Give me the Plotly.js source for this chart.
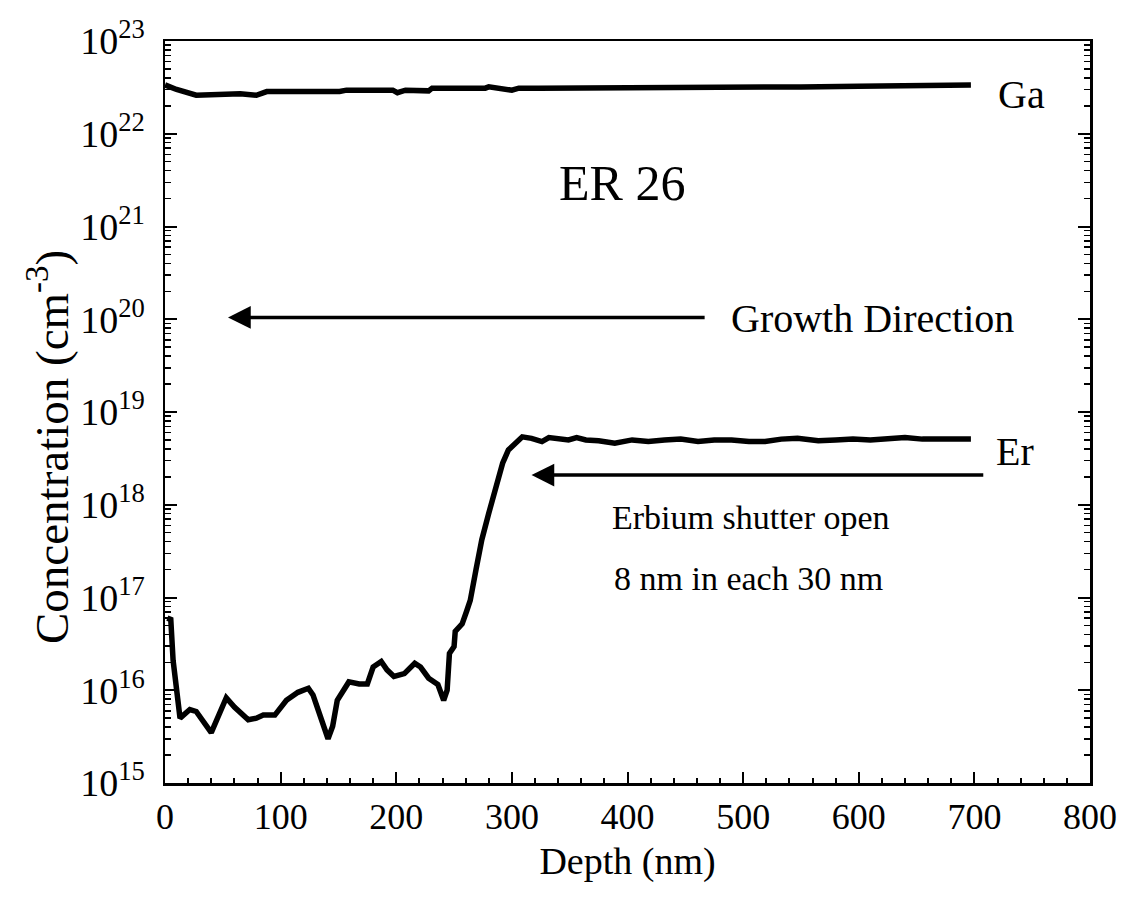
<!DOCTYPE html>
<html>
<head>
<meta charset="utf-8">
<script src="https://cdn.plot.ly/plotly-3.0.1.min.js"></script>
<style>html,body{margin:0;padding:0;background:#fff;}#chart{width:1127px;height:909px;}</style>
</head>
<body>
<div id="chart"></div>
<script>
// Ga depth profile (nm, cm^-3)
const gaDepth = [0, 10, 27, 45, 65, 79, 88, 120, 151, 157, 197, 201, 208, 228, 231, 277, 280, 300, 306, 323, 360, 400, 450, 500, 550, 600, 640, 670, 697];
const gaConc  = [3.36e22, 3.0e22, 2.6e22, 2.65e22, 2.7e22, 2.6e22, 2.85e22, 2.85e22, 2.85e22, 2.95e22, 2.95e22, 2.77e22, 2.95e22, 2.9e22, 3.1e22, 3.1e22, 3.2e22, 2.95e22, 3.1e22, 3.1e22, 3.1e22, 3.1e22, 3.15e22, 3.15e22, 3.2e22, 3.25e22, 3.3e22, 3.3e22, 3.35e22];

// Er depth profile (nm, cm^-3)
const erDepth = [2, 5, 7, 10, 13, 21.5, 27, 40, 47, 53, 60, 72, 79, 85, 95, 105, 115, 124, 128, 135, 141, 145, 149, 159, 168, 175, 180, 187, 192, 198, 207, 216, 221, 228, 236, 241, 244, 246, 250, 251, 257, 261, 264, 269, 274, 280, 286, 292, 297, 303, 309, 317, 326, 332, 338, 349, 356, 364, 375, 389, 404, 418, 432, 446, 461, 475, 490, 505, 519, 533, 547, 565, 580, 595, 610, 625, 640, 655, 670, 685, 697];
const erConc  = [6.0e16, 5.8e16, 2.1e16, 1.1e16, 5.0e15, 6.2e15, 5.9e15, 3.5e15, 5.6e15, 8.3e15, 6.6e15, 4.8e15, 5.0e15, 5.4e15, 5.4e15, 7.8e15, 9.5e15, 1.05e16, 8.9e15, 4.8e15, 3.0e15, 4.1e15, 7.8e15, 1.23e16, 1.17e16, 1.17e16, 1.78e16, 2.04e16, 1.66e16, 1.41e16, 1.51e16, 1.95e16, 1.78e16, 1.35e16, 1.15e16, 7.8e15, 1.0e16, 2.5e16, 2.95e16, 4.3e16, 5.2e16, 7.2e16, 9.3e16, 2.0e17, 4.2e17, 8.1e17, 1.55e18, 2.8e18, 3.9e18, 4.6e18, 5.4e18, 5.2e18, 4.8e18, 5.3e18, 5.2e18, 5.0e18, 5.3e18, 5.0e18, 4.9e18, 4.6e18, 5.0e18, 4.8e18, 5.0e18, 5.1e18, 4.8e18, 5.0e18, 5.0e18, 4.8e18, 4.8e18, 5.1e18, 5.2e18, 4.9e18, 5.0e18, 5.1e18, 5.0e18, 5.1e18, 5.3e18, 5.1e18, 5.1e18, 5.0e18, 5.1e18];

const xTickVals = [0, 100, 200, 300, 400, 500, 600, 700, 800];
const xTickText = ['0', '100', '200', '300', '400', '500', '600', '700', '800'];
const yTickVals = [1e15, 1e16, 1e17, 1e18, 1e19, 1e20, 1e21, 1e22, 1e23];
const yTickText = ['10<sup>15</sup>', '10<sup>16</sup>', '10<sup>17</sup>', '10<sup>18</sup>', '10<sup>19</sup>', '10<sup>20</sup>', '10<sup>21</sup>', '10<sup>22</sup>', '10<sup>23</sup>'];

// minor ticks at 2..9 of each decade
const yMinor = [];
for (let e = 15; e < 23; e++) for (let m = 2; m <= 9; m++) yMinor.push(m * Math.pow(10, e));

const FONT = 'Liberation Serif';
const lineStyle = {color: '#000', width: 5.5};

const traces = [
  {x: gaDepth, y: gaConc, mode: 'lines', line: lineStyle, name: 'Ga', hoverinfo: 'skip'},
  {x: erDepth, y: erConc, mode: 'lines', line: lineStyle, name: 'Er', hoverinfo: 'skip'}
];

const L = v => Math.log10(v);
const txt = (text, x, y, size) => ({text, x, y: L(y), xref: 'x', yref: 'y', showarrow: false,
  font: {family: FONT, size, color: '#000'}});
const arrow = (x0, x1, y) => ({x: x1, y: L(y), ax: x0, ay: L(y), xref: 'x', yref: 'y', axref: 'x', ayref: 'y',
  text: '', showarrow: true, arrowhead: 2, arrowsize: 1.3, arrowwidth: 3.5, arrowcolor: '#000'});

const layout = {
  width: 1127, height: 909,
  margin: {l: 165, r: 37, t: 41, b: 126},
  paper_bgcolor: '#fff', plot_bgcolor: '#fff',
  showlegend: false,
  font: {family: FONT, color: '#000'},
  xaxis: {
    range: [0, 800], tickvals: xTickVals, ticktext: xTickText,
    ticks: 'inside', ticklen: 11, tickwidth: 2, tickcolor: '#000',
    minor: {dtick: 20, ticks: 'inside', ticklen: 5, tickwidth: 2, tickcolor: '#000'},
    showline: true, linecolor: '#000', linewidth: 2.5, mirror: true,
    showgrid: false, zeroline: false,
    tickfont: {family: FONT, size: 36, color: '#000'},
    title: {text: 'Depth (nm)', font: {family: FONT, size: 38, color: '#000'}, standoff: 12}
  },
  yaxis: {
    type: 'log', range: [15, 23], tickvals: yTickVals, ticktext: yTickText,
    ticks: 'inside', ticklen: 12, tickwidth: 2, tickcolor: '#000',
    minor: {tickvals: yMinor, ticks: 'inside', ticklen: 6, tickwidth: 1.5, tickcolor: '#000'},
    showline: true, linecolor: '#000', linewidth: 2.5, mirror: 'ticks',
    showgrid: false, zeroline: false,
    ticklabelstandoff: 10,
    tickfont: {family: FONT, size: 38, color: '#000'}
  },
  annotations: [
    {text: 'Concentration (cm<sup>-3</sup>)', textangle: -90, xref: 'paper', yref: 'paper',
     x: (48 - 165) / 925, y: (783 - 447) / 742, xanchor: 'center', yanchor: 'middle', showarrow: false,
     font: {family: FONT, size: 47, color: '#000'}},
    txt('Ga', 741, Math.pow(10, 22.42), 40),
    txt('ER 26', 395, Math.pow(10, 21.47), 50),
    txt('Growth Direction', 612, Math.pow(10, 20.01), 40),
    txt('Er', 735, Math.pow(10, 18.57), 40),
    txt('Erbium shutter open', 507, Math.pow(10, 17.86), 34),
    txt('8 nm in each 30 nm', 505, Math.pow(10, 17.21), 34),
    arrow(468, 54.5, Math.pow(10, 20.02)),
    arrow(709, 317, Math.pow(10, 18.32))
  ]
};

Plotly.newPlot('chart', traces, layout, {staticPlot: true, displayModeBar: false});
</script>
</body>
</html>
